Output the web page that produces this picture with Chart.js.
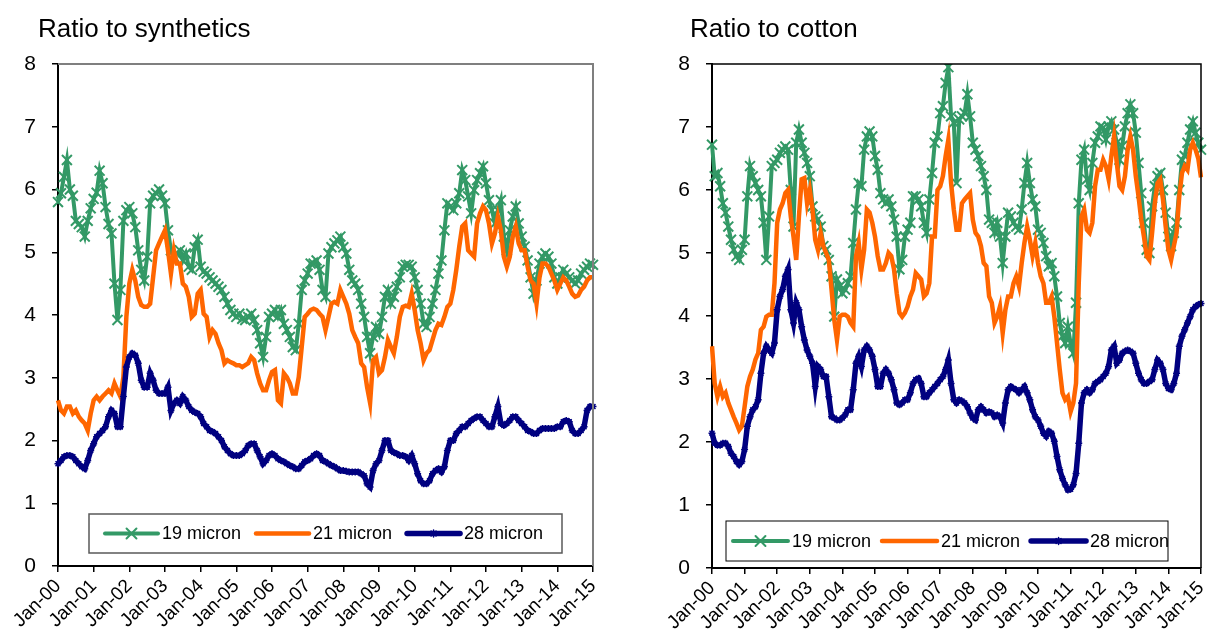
<!DOCTYPE html>
<html>
<head>
<meta charset="utf-8">
<script src="https://cdn.jsdelivr.net/npm/chart.js@4.4.0/dist/chart.umd.min.js"></script>
<style>
  body { margin: 0; background: #fff; width: 1210px; height: 637px; overflow: hidden; position: relative;
         font-family: 'Liberation Sans', Arial, sans-serif; }
  .panel { position: absolute; top: 0; width: 605px; height: 637px; }
  .title { position: absolute; top: 15px; font-size: 26px; line-height: 26px; color: #000; white-space: nowrap; }
</style>
</head>
<body>
<div class="panel" style="left:0"><canvas id="synth" width="605" height="637"></canvas></div>
<div class="panel" style="left:605px"><canvas id="cotton" width="605" height="637"></canvas></div>
<div class="title" style="left:38px">Ratio to synthetics</div>
<div class="title" style="left:690px">Ratio to cotton</div>
<script>
// monthly, Jan-00 .. Jan-15
const seriesNames = ['19 micron', '21 micron', '28 micron'];
const monthNames = ['Jan','Feb','Mar','Apr','May','Jun','Jul','Aug','Sep','Oct','Nov','Dec'];
const yTickValues = [0, 1, 2, 3, 4, 5, 6, 7, 8];

const labels = [];
for (let y = 0; y <= 15; y++) {
  for (let m = 0; m < 12; m++) {
    if (y === 15 && m > 0) break;
    labels.push(monthNames[m] + '-' + String(y).padStart(2, '0'));
  }
}

// Ratio to synthetics
const synth19 = [
  5.8, 5.94, 6.2, 6.47, 6.0, 5.9, 5.5, 5.45, 5.4, 5.25, 5.5, 5.7,
  5.85, 5.95, 6.3, 6.1, 5.72, 5.45, 5.3, 4.5, 3.92, 4.4, 5.5, 5.67,
  5.72, 5.62, 5.4, 5.03, 4.72, 4.55, 4.93, 5.78, 5.9, 5.94, 6.0, 5.9,
  5.78, 5.35, 5.03, 4.93, 4.98, 5.03, 4.87, 4.98, 4.77, 4.72, 5.08, 5.2,
  4.77, 4.69, 4.66, 4.6, 4.55, 4.5, 4.45, 4.4, 4.29, 4.18, 4.08, 4.02,
  3.97, 4.02, 3.94, 3.92, 3.97, 4.02, 3.92, 3.76, 3.55, 3.33, 3.65, 3.97,
  4.02, 4.08, 3.97, 4.08, 3.86, 3.76, 3.65, 3.49, 3.44, 3.86, 4.4, 4.55,
  4.66, 4.82, 4.82, 4.87, 4.72, 4.4, 4.29, 4.98, 5.08, 5.14, 5.19, 5.25,
  5.08, 4.98, 4.72, 4.55, 4.5, 4.4, 4.18, 3.97, 3.65, 3.39, 3.65, 3.81,
  3.7, 3.97, 4.29, 4.4, 4.18, 4.29, 4.45, 4.6, 4.77, 4.8, 4.8, 4.77,
  4.6, 4.4, 4.18, 3.86, 3.81, 3.97, 4.18, 4.4, 4.66, 4.87, 5.35, 5.78,
  5.73, 5.67, 5.78, 5.94, 6.31, 6.15, 5.89, 5.62, 5.99, 6.15, 6.26, 6.37,
  6.1, 5.83, 5.67, 5.46, 5.67, 5.83, 5.25, 5.03, 5.35, 5.57, 5.73, 5.46,
  5.25, 5.09, 4.87, 4.6, 4.34, 4.55, 4.82, 4.93, 4.98, 4.93, 4.82, 4.6,
  4.5, 4.6, 4.72, 4.66, 4.6, 4.55, 4.5, 4.55, 4.66, 4.72, 4.77, 4.82,
  4.8
];
const synth21 = [
  2.64, 2.48, 2.43, 2.54, 2.54, 2.43, 2.48, 2.38, 2.32, 2.27, 2.16, 2.43,
  2.64, 2.7, 2.64, 2.7, 2.75, 2.8, 2.75, 2.91, 2.8, 2.7, 3.01, 3.97,
  4.5, 4.72, 4.55, 4.29, 4.16, 4.13, 4.13, 4.18, 4.6, 5.03, 5.14, 5.25,
  5.35, 5.03, 4.66, 5.03, 4.82, 4.82, 4.5, 4.45, 4.29, 3.97, 4.02, 4.34,
  4.4, 4.02, 3.97, 3.65, 3.76, 3.7, 3.55, 3.44, 3.23, 3.28, 3.25, 3.23,
  3.2, 3.2, 3.17, 3.2, 3.23, 3.33, 3.28, 3.07, 2.91, 2.8, 2.8, 2.96,
  3.09, 3.12, 2.64, 2.59, 3.07, 3.01, 2.91, 2.75, 2.75, 3.01, 3.49, 3.97,
  4.02, 4.08, 4.1, 4.08, 4.02, 3.97, 3.76, 3.97, 4.18, 4.21, 4.18, 4.4,
  4.29, 4.18, 4.02, 3.76, 3.65, 3.55, 3.23, 3.17, 2.85, 2.6, 3.28, 3.33,
  3.07, 3.12, 3.33, 3.6, 3.49, 3.39, 3.65, 3.97, 4.13, 4.15, 4.13, 4.34,
  4.08, 3.76, 3.55, 3.28, 3.39, 3.44, 3.6, 3.76, 3.86, 3.84, 3.97, 4.13,
  4.18, 4.4, 4.72, 5.09, 5.41, 5.46, 5.03, 4.98, 4.93, 5.46, 5.62, 5.73,
  5.67, 5.46, 5.14, 5.3, 5.57, 5.35, 4.93, 4.77, 4.93, 5.25, 5.41, 5.14,
  5.03, 5.03, 4.77, 4.55, 4.5, 4.18, 4.6, 4.82, 4.82, 4.77, 4.66, 4.55,
  4.4, 4.5, 4.6, 4.55, 4.45, 4.34, 4.29, 4.31, 4.4, 4.45, 4.55, 4.6,
  4.6
];
const synth28 = [
  1.63, 1.68, 1.74, 1.76, 1.76, 1.74, 1.68, 1.63, 1.58, 1.55, 1.68, 1.84,
  1.95, 2.06, 2.11, 2.16, 2.22, 2.38, 2.48, 2.43, 2.22, 2.22, 2.7, 3.17,
  3.33, 3.39, 3.36, 3.23, 2.96, 2.85, 2.85, 3.07, 2.96, 2.8, 2.75, 2.75,
  2.75, 2.85, 2.48, 2.59, 2.64, 2.59, 2.7, 2.64, 2.54, 2.48, 2.45, 2.43,
  2.38, 2.27, 2.22, 2.16, 2.14, 2.11, 2.06, 2.0, 1.9, 1.84, 1.79, 1.76,
  1.76, 1.76, 1.79, 1.84, 1.92, 1.95, 1.95, 1.84, 1.74, 1.63, 1.68, 1.76,
  1.79, 1.76, 1.71, 1.68, 1.66, 1.63, 1.6, 1.58, 1.55, 1.55, 1.6, 1.66,
  1.68, 1.71, 1.76, 1.79, 1.76, 1.68, 1.66, 1.63, 1.6, 1.58, 1.55, 1.52,
  1.52, 1.51, 1.5, 1.5, 1.5, 1.5, 1.47, 1.44, 1.31, 1.26, 1.52, 1.63,
  1.68, 1.84, 2.0, 2.0, 1.84, 1.81, 1.79, 1.76, 1.76, 1.74, 1.68, 1.76,
  1.63, 1.47, 1.36, 1.31, 1.31, 1.36, 1.47, 1.52, 1.55, 1.5, 1.58, 1.84,
  2.0, 2.0, 2.11, 2.16, 2.22, 2.22, 2.27, 2.32, 2.35, 2.38, 2.38, 2.32,
  2.27, 2.22, 2.22, 2.38, 2.54, 2.27, 2.24, 2.27, 2.32, 2.38, 2.38, 2.32,
  2.27, 2.22, 2.16, 2.14, 2.11, 2.11, 2.16, 2.19, 2.19, 2.19, 2.19, 2.19,
  2.22, 2.22, 2.3, 2.32, 2.3, 2.16, 2.11, 2.11, 2.16, 2.22, 2.48, 2.54,
  2.54
];

// Ratio to cotton
const cotton19 = [
  6.72, 6.22, 6.27, 6.06, 5.79, 5.64, 5.42, 5.21, 5.05, 4.95, 4.89, 5.05,
  5.21, 5.9, 6.38, 6.22, 6.11, 6.0, 5.9, 5.48, 4.89, 5.58, 6.38, 6.43,
  6.48, 6.59, 6.64, 6.69, 6.64, 6.0, 5.42, 6.75, 6.96, 6.75, 6.59, 6.43,
  6.22, 5.74, 5.58, 5.53, 5.42, 5.11, 5.05, 4.89, 4.63, 3.99, 4.58, 4.47,
  4.36, 4.42, 4.52, 4.63, 5.16, 5.69, 6.11, 6.06, 6.64, 6.85, 6.93, 6.85,
  6.54, 6.32, 5.95, 5.85, 5.79, 5.85, 5.74, 5.53, 5.26, 4.74, 4.89, 5.26,
  5.37, 5.48, 5.9, 5.9, 5.85, 5.74, 5.48, 5.32, 5.85, 6.27, 6.75, 6.85,
  7.22, 7.33, 7.7, 7.95, 7.17, 7.07, 6.11, 7.12, 7.17, 7.22, 7.52, 7.17,
  6.75, 6.64, 6.54, 6.38, 6.22, 6.0, 5.53, 5.48, 5.32, 5.48, 5.26, 4.84,
  5.26, 5.64, 5.58, 5.48, 5.42, 5.37, 5.69, 6.11, 6.43, 6.11, 5.85, 5.74,
  5.37, 5.32, 5.16, 4.95, 4.79, 4.84, 4.63, 4.31, 3.89, 3.68, 3.57, 3.83,
  3.57, 3.41, 4.21, 5.79, 6.48, 6.64, 6.17, 6.0, 6.43, 6.75, 6.85, 7.01,
  6.99, 6.8, 7.01, 7.09, 6.96, 6.75, 6.48, 6.7, 7.01, 7.22, 7.36, 7.22,
  6.91, 6.43, 5.95, 5.48, 5.05, 5.0, 5.74, 6.06, 6.22, 6.27, 6.0, 5.64,
  5.26, 5.11, 5.32, 5.48, 6.0, 6.48, 6.54, 6.75, 6.96, 7.09, 6.91, 6.75,
  6.64
];
const cotton21 = [
  3.52, 2.93, 2.72, 2.88, 2.72, 2.78, 2.62, 2.51, 2.4, 2.3, 2.19, 2.25,
  2.56, 2.88, 3.04, 3.15, 3.31, 3.41, 3.78, 3.83, 3.99, 4.02, 4.02, 4.52,
  5.48, 5.69, 5.79, 5.95, 6.0, 5.58, 5.26, 4.89, 5.58, 6.17, 6.19, 5.79,
  6.0, 5.69, 5.21, 5.05, 5.32, 5.11, 5.0, 4.89, 4.42, 3.94, 3.62, 3.99,
  4.02, 4.02, 3.99, 3.89, 3.83, 4.95, 5.16, 4.74, 5.05, 5.69, 5.64, 5.48,
  5.26, 4.95, 4.74, 4.74, 4.84, 5.0, 4.95, 4.74, 4.36, 4.05, 3.99, 4.05,
  4.15, 4.31, 4.42, 4.68, 4.63, 4.58, 4.31, 4.36, 4.52, 5.26, 5.26, 6.0,
  6.06, 6.22, 6.54, 6.8, 6.11, 5.69, 5.37, 5.37, 5.79, 5.85, 5.9, 5.95,
  5.53, 5.32, 5.26, 5.11, 4.84, 4.79, 4.31, 4.21, 3.89, 3.99, 4.15, 3.73,
  4.1, 4.31, 4.31, 4.52, 4.63, 4.47, 4.84, 5.16, 5.42, 5.21, 4.95, 5.16,
  4.84, 4.63, 4.52, 4.21, 4.21, 4.31, 3.99, 3.57, 3.15, 2.78, 2.67, 2.72,
  2.48, 2.62, 2.93, 4.52, 5.58, 5.69, 5.37, 5.32, 5.48, 6.06, 6.32, 6.32,
  6.48, 6.38, 6.17, 6.54, 6.85, 6.43, 6.06, 6.0, 6.22, 6.64, 6.85, 6.64,
  6.22, 5.9, 5.53, 5.26, 4.95, 4.89, 5.32, 5.79, 6.11, 6.17, 5.85, 5.42,
  5.05, 4.89, 5.11, 5.32, 5.9, 6.27, 6.38, 6.32, 6.64, 6.75, 6.64, 6.5,
  6.2
];
const cotton28 = [
  2.14, 1.98, 1.95, 1.95, 1.98, 1.98, 1.93, 1.82, 1.77, 1.69, 1.64, 1.69,
  1.88, 2.25, 2.4, 2.51, 2.56, 2.67, 3.09, 3.41, 3.52, 3.46, 3.41, 3.57,
  4.1, 4.31, 4.42, 4.63, 4.74, 4.1, 3.89, 4.21, 4.1, 3.83, 3.62, 3.46,
  3.36, 3.25, 2.88, 3.2, 3.15, 3.04, 3.04, 2.72, 2.4, 2.38, 2.35, 2.35,
  2.38, 2.43, 2.51, 2.51, 2.83, 3.25, 3.36, 3.2, 3.46, 3.52, 3.46, 3.36,
  3.15, 2.88, 2.88, 3.09, 3.15, 3.09, 2.99, 2.83, 2.62, 2.59, 2.62, 2.67,
  2.67, 2.78, 2.93, 2.99, 3.01, 2.93, 2.72, 2.72, 2.78, 2.83, 2.88, 2.93,
  2.99, 3.04, 3.15, 3.3, 2.93, 2.67, 2.62, 2.67, 2.65, 2.62, 2.56, 2.46,
  2.38, 2.35, 2.51, 2.56, 2.51, 2.46, 2.48, 2.46, 2.4, 2.43, 2.4, 2.3,
  2.62, 2.83, 2.88, 2.85, 2.83, 2.78, 2.83, 2.88, 2.78, 2.67, 2.51, 2.4,
  2.35, 2.25, 2.14, 2.09, 2.17, 2.14, 2.01, 1.77, 1.56, 1.42, 1.32, 1.24,
  1.25, 1.32, 1.5, 1.98, 2.62, 2.78, 2.83, 2.78, 2.83, 2.93, 2.96, 2.99,
  3.04, 3.09, 3.2, 3.46, 3.52, 3.25, 3.3, 3.41, 3.44, 3.46, 3.44, 3.41,
  3.25, 3.09, 2.99, 2.93, 2.93, 2.96, 2.99, 3.15, 3.3, 3.25, 3.15, 2.93,
  2.85, 2.83, 2.93, 3.09, 3.52, 3.68, 3.78, 3.89, 3.99, 4.1, 4.15, 4.18,
  4.2
];

const FONT = "'Liberation Sans', Arial, sans-serif";
const GREEN = '#339966';
const ORANGE = '#ff6600';
const NAVY = '#000080';

// plot border (top/right) and the boxed legend inside the plot
const framePlugin = {
  id: 'frame',
  afterDraw(chart, args, opts) {
    const ctx = chart.ctx;
    const a = chart.chartArea;
    ctx.save();
    ctx.strokeStyle = opts.color;
    ctx.lineWidth = opts.width;
    ctx.beginPath();
    ctx.moveTo(a.left, a.top);
    ctx.lineTo(a.right, a.top);
    ctx.lineTo(a.right, a.bottom);
    ctx.stroke();

    const L = opts.legend;
    ctx.fillStyle = '#fff';
    ctx.fillRect(L.x, L.y, L.w, L.h);
    ctx.strokeStyle = L.borderColor;
    ctx.lineWidth = L.borderWidth;
    ctx.strokeRect(L.x, L.y, L.w, L.h);

    const cy = L.y + L.h / 2;
    let x = L.x + L.pad;
    ctx.font = '18px ' + FONT;
    ctx.textBaseline = 'middle';
    ctx.textAlign = 'left';
    chart.data.datasets.forEach(ds => {
      ctx.strokeStyle = ds.borderColor;
      ctx.lineWidth = ds.borderWidth;
      ctx.lineCap = 'round';
      ctx.beginPath();
      ctx.moveTo(x, cy);
      ctx.lineTo(x + L.sample, cy);
      ctx.stroke();
      if (ds.pointRadius > 0) {
        ctx.fillStyle = ds.borderColor;
        ctx.lineWidth = ds.pointBorderWidth;
        Chart.helpers.drawPoint(ctx, {
          pointStyle: ds.pointStyle, radius: ds.pointRadius,
          borderWidth: ds.pointBorderWidth, rotation: 0
        }, x + L.sample / 2, cy);
      }
      ctx.fillStyle = '#000';
      ctx.fillText(ds.label, x + L.sample + L.gap, cy + 1);
      x += L.sample + L.gap + ctx.measureText(ds.label).width + L.itemGap;
    });
    ctx.restore();
  }
};

function makeChart(id, s19, s21, s28, cfg) {
  return new Chart(document.getElementById(id), {
    type: 'line',
    data: {
      labels: labels,
      datasets: [
        { label: seriesNames[0], data: s19, borderColor: GREEN, backgroundColor: GREEN,
          borderWidth: 4, pointStyle: 'crossRot', pointRadius: 7, pointBorderWidth: 2, order: 3 },
        { label: seriesNames[1], data: s21, borderColor: ORANGE, backgroundColor: ORANGE,
          borderWidth: 4.5, pointRadius: 0, order: 2 },
        { label: seriesNames[2], data: s28, borderColor: NAVY, backgroundColor: NAVY,
          borderWidth: 5.5, pointStyle: 'star', pointRadius: 3.5, pointBorderWidth: 1.5, order: 1 }
      ]
    },
    options: {
      responsive: false,
      animation: false,
      devicePixelRatio: 1,
      layout: { padding: { left: 0, right: cfg.padRight, top: cfg.top, bottom: 0 } },
      elements: { line: { tension: 0 } },
      plugins: {
        legend: { display: false },
        tooltip: { enabled: false },
        frame: { color: cfg.frameColor, width: cfg.frameWidth, legend: cfg.legend }
      },
      scales: {
        x: {
          type: 'category',
          offset: false,
          border: { color: '#000', width: 2 },
          grid: {
            drawOnChartArea: false, tickLength: 6, lineWidth: 1.5,
            color: c => (c.index % 12 === 0 ? '#000' : 'rgba(0,0,0,0)')
          },
          ticks: {
            autoSkip: false, maxRotation: 45, minRotation: 45, padding: 3,
            color: '#000', font: { size: 19, family: FONT },
            callback: (v, i) => (i % 12 === 0 ? labels[i] : '')
          },
          afterFit: s => { s.height = cfg.xHeight; s.paddingLeft = 0; s.paddingRight = 0; }
        },
        y: {
          min: 0, max: 8,
          border: { color: '#000', width: 2 },
          grid: { drawOnChartArea: false, tickLength: 6, color: '#000', lineWidth: 1.5 },
          afterBuildTicks: s => { s.ticks = yTickValues.map(v => ({ value: v })); },
          ticks: { padding: 16, color: '#000', font: { size: 21, family: FONT } },
          afterFit: s => { s.width = cfg.yWidth; }
        }
      }
    },
    plugins: [framePlugin]
  });
}

makeChart('synth', synth19, synth21, synth28, {
  top: 64, padRight: 12, yWidth: 58, xHeight: 71,
  frameColor: '#7f7f7f', frameWidth: 2,
  legend: { x: 89, y: 514, w: 473, h: 39, pad: 16, sample: 53, gap: 4, itemGap: 15,
            borderColor: '#595959', borderWidth: 1.5 }
});
makeChart('cotton', cotton19, cotton21, cotton28, {
  top: 64, padRight: 1, yWidth: 107, xHeight: 69,
  frameColor: '#000', frameWidth: 1.5,
  legend: { x: 121, y: 521, w: 442, h: 40, pad: 7, sample: 55, gap: 4, itemGap: 11,
            borderColor: '#000', borderWidth: 1 }
});
</script>
</body>
</html>
